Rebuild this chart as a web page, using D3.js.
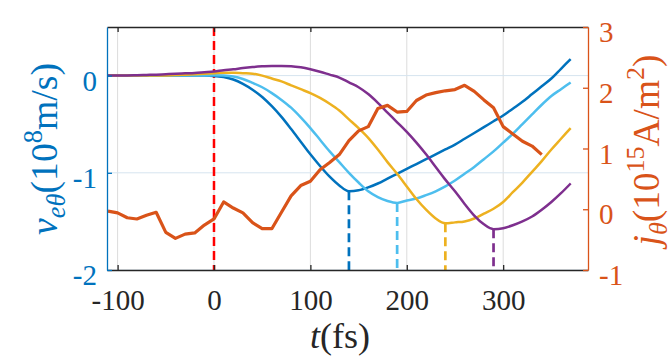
<!DOCTYPE html>
<html><head><meta charset="utf-8">
<script src="https://cdn.jsdelivr.net/npm/d3@7"></script>
<style>body{margin:0;background:#fff}svg{display:block}
text{font-family:"Liberation Serif","Tinos","DejaVu Serif","Noto Serif",serif !important;}</style>
</head><body><svg id="c" width="672" height="360"></svg>
<script>
// ---------- data ----------
const tV = [-110,-100,-90,-80,-70,-60,-50,-40,-30,-20,-10,0,10,20,30,40,50,60,70,80,90,100,110,120,130,140,150,160,170,180,190,200,210,220,230,240,250,260,270,280,290,300,310,320,330,340,350,360,370];
const vBlue = [0,0,0,0,0,0,0,0,0,0,0,-0.003,-0.015,-0.04,-0.085,-0.145,-0.22,-0.315,-0.425,-0.55,-0.68,-0.81,-0.93,-1.04,-1.13,-1.19,-1.18,-1.15,-1.11,-1.06,-1.01,-0.96,-0.91,-0.86,-0.81,-0.76,-0.71,-0.65,-0.59,-0.53,-0.47,-0.41,-0.34,-0.27,-0.19,-0.11,-0.03,0.07,0.17];
const vLightBlue = [0,0,0,0,0,0,0,0,0,0,0,0.003,0,-0.01,-0.035,-0.075,-0.12,-0.18,-0.25,-0.33,-0.43,-0.54,-0.66,-0.78,-0.89,-1.0,-1.1,-1.19,-1.25,-1.29,-1.31,-1.285,-1.265,-1.23,-1.19,-1.14,-1.08,-1.01,-0.94,-0.86,-0.78,-0.69,-0.6,-0.5,-0.4,-0.3,-0.21,-0.14,-0.07];
const vYellow = [0,0,0,0,0,0,0.002,0.005,0.01,0.015,0.02,0.025,0.03,0.03,0.025,0.02,0.0,-0.03,-0.06,-0.1,-0.14,-0.18,-0.23,-0.29,-0.36,-0.45,-0.54,-0.64,-0.76,-0.89,-1.01,-1.14,-1.27,-1.38,-1.47,-1.52,-1.51,-1.5,-1.47,-1.42,-1.37,-1.3,-1.2,-1.1,-0.99,-0.88,-0.76,-0.65,-0.54];
const vPurple = [0,0,0.002,0.004,0.007,0.01,0.014,0.018,0.023,0.028,0.035,0.042,0.055,0.065,0.078,0.088,0.095,0.1,0.1,0.097,0.085,0.065,0.04,0.01,-0.02,-0.07,-0.12,-0.19,-0.28,-0.38,-0.48,-0.58,-0.69,-0.81,-0.94,-1.07,-1.19,-1.32,-1.44,-1.53,-1.58,-1.57,-1.54,-1.5,-1.45,-1.38,-1.3,-1.21,-1.11];

const tJ = [-110,-100,-90,-80,-70,-60,-50,-40,-30,-20,-10,0,10,20,30,40,50,60,70,80,90,100,110,120,130,140,150,160,170,180,190,200,210,220,230,240,250,260,270,280,290,300,310,320,330,340];
const jTheta = [-0.03,-0.06,-0.14,-0.16,-0.1,-0.05,-0.38,-0.48,-0.41,-0.39,-0.26,-0.16,0.12,0.02,-0.06,-0.22,-0.32,-0.32,-0.05,0.22,0.39,0.46,0.65,0.77,0.9,1.13,1.29,1.36,1.66,1.71,1.6,1.61,1.79,1.88,1.92,1.95,1.97,2.04,1.94,1.8,1.67,1.36,1.24,1.12,1.04,0.9];

const tMin = [140,190,240,290];
const vMin = [-1.19,-1.31,-1.52,-1.58];
const tPulse = 0;

const xTicks = [-100,0,100,200,300];
const yLTicks = [-2,-1,0];
const yRTicks = [-1,0,1,2,3];

// ---------- styling ----------
const C = {blue:"#0072BD", lblue:"#4DBEEE", yellow:"#EDB120", purple:"#7E2F8E", orange:"#D95319", red:"#FF0000", ink:"#262626"};
const seriesColors = [C.blue, C.lblue, C.yellow, C.purple];
const vSeries = [vBlue, vLightBlue, vYellow, vPurple];

const L=107, R=588, T=27, B=270;
const svg = d3.select("#c");
svg.append("rect").attr("width",672).attr("height",360).attr("fill","#fff");

const x = d3.scaleLinear().domain([-111,388]).range([L,R]);
const yL = d3.scaleLinear().domain([-2,0.5]).range([B,T]);
const yR = d3.scaleLinear().domain([-1,3]).range([B,T]);

// grid
const grid = svg.append("g");
grid.selectAll("line.gx").data(xTicks).join("line")
  .attr("x1",d=>x(d)).attr("x2",d=>x(d)).attr("y1",T).attr("y2",B)
  .attr("stroke","#dcdcdc").attr("stroke-width",1);
grid.selectAll("line.gy").data(yLTicks).join("line")
  .attr("x1",L).attr("x2",R).attr("y1",d=>yL(d)).attr("y2",d=>yL(d))
  .attr("stroke","#d6e4ef").attr("stroke-width",1);

// red dashed pulse line
svg.append("line").attr("x1",x(tPulse)).attr("x2",x(tPulse)).attr("y1",T).attr("y2",B)
  .attr("stroke",C.red).attr("stroke-width",2.5).attr("stroke-dasharray","9,5");

// v curves
const lineV = d3.line().x((d,i)=>x(tV[i])).y(d=>yL(d)).curve(d3.curveMonotoneX);
vSeries.forEach((s,k)=>{
  svg.append("path").attr("d",lineV(s)).attr("fill","none")
    .attr("stroke",seriesColors[k]).attr("stroke-width",2.5).attr("stroke-linejoin","round");
});
// minimum markers
tMin.forEach((t,k)=>{
  svg.append("line").attr("x1",x(t)).attr("x2",x(t)).attr("y1",yL(vMin[k])).attr("y2",yL(-2))
    .attr("stroke",seriesColors[k]).attr("stroke-width",2.7).attr("stroke-dasharray","9,5");
});

// j curve
const lineJ = d3.line().x((d,i)=>x(tJ[i])).y(d=>yR(d));
svg.append("path").attr("d",lineJ(jTheta)).attr("fill","none")
  .attr("stroke",C.orange).attr("stroke-width",3.2).attr("stroke-linejoin","round");

// axes
function styleAxis(g,color){
  g.attr("font-family",null);
  g.select(".domain").attr("stroke",color).attr("stroke-width",1.3);
  g.selectAll(".tick line").attr("stroke",color).attr("stroke-width",1.3);
  g.selectAll(".tick text").attr("fill",color).attr("font-size",29);
}
const gTop = svg.append("g").attr("transform",`translate(0,${T})`)
  .call(d3.axisTop(x).tickValues(xTicks).tickSizeInner(-5).tickSizeOuter(0).tickFormat(""));
styleAxis(gTop,C.ink);
const gB = svg.append("g").attr("transform",`translate(0,${B})`)
  .call(d3.axisBottom(x).tickValues(xTicks).tickSizeInner(-5).tickSizeOuter(0).tickPadding(19).tickFormat(d3.format("d")));
styleAxis(gB,C.ink);
gB.selectAll(".tick text").attr("dy","0.71em");
const gL = svg.append("g").attr("transform",`translate(${L},0)`)
  .call(d3.axisLeft(yL).tickValues(yLTicks).tickSizeInner(-5).tickSizeOuter(0).tickPadding(10).tickFormat(d3.format("d")));
styleAxis(gL,C.blue);
gL.selectAll(".tick text").attr("dy","0.5em");
const gR = svg.append("g").attr("transform",`translate(${R},0)`)
  .call(d3.axisRight(yR).tickValues(yRTicks).tickSizeInner(-5).tickSizeOuter(0).tickPadding(11).tickFormat(d3.format("d")));
styleAxis(gR,C.orange);
gR.selectAll(".tick text").attr("dy","0.5em");
svg.selectAll(".tick text").text(function(){return d3.select(this).text().replace("\u2212","-");});

// math-like labels
function mathLabel(parent, parts, fs, color){
  const t = parent.append("text").attr("fill",color)
     .attr("text-anchor","middle").attr("font-size",fs);
  let cur = 0;
  parts.forEach(p=>{
    const small = p.sub||p.sup;
    const target = p.sub ? 0.22*fs : (p.sup ? -0.4*fs : 0);
    t.append("tspan").text(p.t)
      .attr("font-size", small?0.7*fs:fs)
      .attr("font-style", p.it?"italic":"normal")
      .attr("dy", target-cur);
    cur = target;
  });
  return t;
}
function fitLabel(parent, parts, targetLen, color){
  let t = mathLabel(parent, parts, 30, color);
  const w = t.node().getBBox().width;
  t.remove();
  return mathLabel(parent, parts, 30*targetLen/w, color);
}

const gLab = svg.append("g").attr("transform","translate(57,149) rotate(-90)");
fitLabel(gLab, [{t:"v",it:true},{t:"eθ",it:true,sub:true},{t:"(10"},{t:"8",sup:true},{t:"m/s)"}], 172, C.blue);

const gRLab = svg.append("g").attr("transform","translate(659,150) rotate(-90)");
fitLabel(gRLab, [{t:"j",it:true},{t:"θ",it:true,sub:true},{t:"(10"},{t:"15",sup:true},{t:"A/m"},{t:"2",sup:true},{t:")"}], 196, C.orange);

const gX = svg.append("g").attr("transform","translate(340,348)");
fitLabel(gX, [{t:"t",it:true},{t:"(fs)"}], 60, C.ink);
</script></body></html>
